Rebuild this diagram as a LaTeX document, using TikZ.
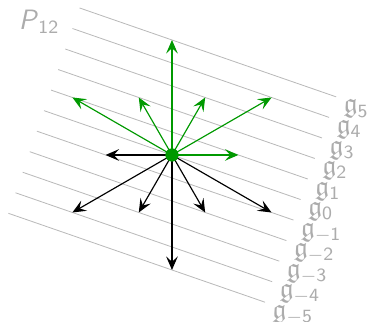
\documentclass[tikz,border=0pt]{standalone}
\usepackage{amsmath,amssymb}
\usetikzlibrary{arrows.meta}

\colorlet{rootgreen}{green!60!black}

\begin{document}
\begin{tikzpicture}[level/.style={gray!55, line width=0.35pt}, grade/.style={text=gray!65, anchor=north west, inner sep=0.5pt, xshift=2.5pt, yshift=-0.5pt, font=\large}, posroot/.style={-{Stealth[length=5.8pt,width=5pt,inset=2.3pt]}, line width=0.5pt, rootgreen}, negroot/.style={-{Stealth[length=5.8pt,width=5pt,inset=2.3pt]}, line width=0.5pt, black}, dot/.style={circle, fill=rootgreen, minimum size=0.2cm, inner sep=0pt}]
	\useasboundingbox (-2.590,-2.515) rectangle (2.937,2.334);
	\begin{scope}[rotate=-19.107]
		\foreach \k in {-5,...,5} {
			\draw[level] (-2.04,0.3273*\k) coordinate (l\k) -- (2.05,0.3273*\k) coordinate (r\k);
			\node[grade] (g\k) at (r\k) {$\mathfrak{g}_{\mathsf{\k}}$};
		}
	\end{scope}
	\node[text=gray!65, font=\large] (P) at (-2.0,2.0) {\textsf{\textit{P}}$_{\mathsf{12}}$};
	\coordinate (O) at (0,0);
	\foreach \a/\r [count=\i] in {0/1,30/1.732,60/1,90/1.732,120/1,150/1.732} {
		\coordinate (p\i) at (\a:\r);
		\coordinate (n\i) at (\a+180:\r);
		\draw[posroot] (O) -- (p\i);
		\draw[negroot] (O) -- (n\i);
	}
	\node[dot] (origin) at (O) {};
\end{tikzpicture}
\end{document}
